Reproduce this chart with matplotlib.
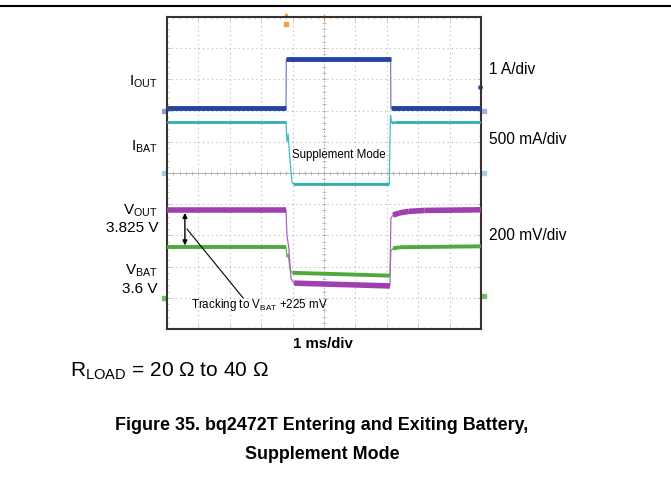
import matplotlib
matplotlib.use("Agg")
import matplotlib.pyplot as plt
from matplotlib.lines import Line2D
import numpy as np

plt.rcParams['font.family'] = ['Liberation Sans', 'DejaVu Sans']
plt.rcParams['mathtext.fontset'] = 'custom'
plt.rcParams['mathtext.rm'] = 'Liberation Sans'
plt.rcParams['mathtext.it'] = 'Liberation Sans:italic'
plt.rcParams['mathtext.bf'] = 'Liberation Sans:bold'

# ---- data (in scope divisions: x 0..10 time, y 0..10 screen) ----
iout_x = [0, 3.79, 3.80, 7.12, 7.13, 10]
iout_y = [7.08, 7.08, 8.65, 8.65, 7.08, 7.08]

ibat_x = [0, 3.79, 3.82, 3.86, 3.90, 3.98, 4.02, 7.08, 7.10, 7.12, 7.16, 7.25, 10]
ibat_y = [6.62, 6.62, 6.00, 6.25, 5.60, 4.70, 4.66, 4.66, 6.00, 6.85, 6.60, 6.62, 6.62]

vout_x = [0, 3.79, 3.82, 3.88, 3.95, 4.05, 7.10, 7.13, 7.20, 7.40, 7.70, 8.20, 10]
vout_y = [3.81, 3.81, 3.00, 2.60, 1.60, 1.47, 1.38, 3.55, 3.65, 3.72, 3.77, 3.80, 3.82]

vbat_x = [0, 3.79, 3.82, 3.86, 3.92, 4.00, 7.10, 7.13, 7.20, 7.40, 10]
vbat_y = [2.63, 2.63, 2.30, 2.40, 1.90, 1.80, 1.71, 2.50, 2.58, 2.62, 2.65]

left_labels = [(r'I$_{\mathrm{OUT}}$', 82), (r'I$_{\mathrm{BAT}}$', 147),
               (r'V$_{\mathrm{OUT}}$', 211), ('3.825 V', 228),
               (r'V$_{\mathrm{BAT}}$', 271), ('3.6 V', 289)]
right_labels = [('1 A/div', 69), ('500 mA/div', 140), ('200 mV/div', 236)]

W, H = 671, 502
fig = plt.figure(figsize=(W / 100, H / 100), dpi=100)
L, T, R, B = 167, 18, 481, 330
ax = fig.add_axes([L / W, 1 - B / H, (R - L) / W, (B - T) / H])
ax.set_xlim(0, 10)
ax.set_ylim(0, 10)

# grid
for k in range(1, 10):
    if k == 5:
        continue
    ax.axvline(k, color='#b8b8b8', lw=0.8, ls=(0, (1, 3)), zorder=1)
    ax.axhline(k, color='#b8b8b8', lw=0.8, ls=(0, (1, 3)), zorder=1)
ax.axhline(5, color='#b0a0a0', lw=0.6, zorder=1)
ax.axvline(5, color='#b0a0a0', lw=0.6, ls=(0, (2, 2)), zorder=1)
minor = np.arange(0.2, 10, 0.2)
ax.plot(minor, np.full_like(minor, 5), ls='none', marker='|', ms=3, color='#b0a0a0', mew=0.5, zorder=1)
ax.plot(np.full_like(minor, 5), minor, ls='none', marker='_', ms=3, color='#b0a0a0', mew=0.5, zorder=1)

ax.set_xticks(np.arange(0, 11, 1))
ax.set_yticks(np.arange(0, 11, 1))
ax.set_xticks(minor, minor=True)
ax.set_yticks(minor, minor=True)
ax.tick_params(which='both', direction='in', top=True, right=True,
               labelbottom=False, labelleft=False, color='#c0b0b0', width=0.5)
ax.tick_params(which='major', length=3)
ax.tick_params(which='minor', length=1.5)
for s in ax.spines.values():
    s.set_color('#3a3030')
    s.set_linewidth(1.5)


def trace(xs, ys, color, thick, thin_color):
    ax.plot(xs, ys, color=thin_color, lw=0.9, zorder=3)
    for i in range(len(xs) - 1):
        dx = xs[i + 1] - xs[i]
        if dx > 0 and abs(ys[i + 1] - ys[i]) / dx < 1.0:
            ax.plot([xs[i], xs[i + 1]], [ys[i], ys[i + 1]], color=color,
                    lw=thick, solid_capstyle='butt', zorder=4)


trace(iout_x, iout_y, '#2444a0', 3.5, '#7080c0')
trace(ibat_x, ibat_y, '#2fb0aa', 2.0, '#40c0c0')
trace(vbat_x, vbat_y, '#4eaa3a', 2.8, '#60b850')
trace(vout_x, vout_y, '#a040b0', 4.0, '#b060c0')

# markers
ax.plot([-0.08], [7.0], marker='s', ms=3, color='#80a0e0', clip_on=False)
ax.plot([-0.08], [5.0], marker='s', ms=3, color='#a0d0e0', clip_on=False)
ax.plot([-0.08], [1.0], marker='s', ms=3, color='#70c060', clip_on=False)
ax.plot([10.08], [7.0], marker='s', ms=3, color='#a0b0e0', clip_on=False)
ax.plot([10.08], [5.0], marker='s', ms=3, color='#a0d0e0', clip_on=False)
ax.plot([10.08], [1.05], marker='s', ms=3, color='#70c060', clip_on=False)
ax.plot([9.98], [7.76], marker='o', ms=2.5, color='#3050c0', clip_on=False)
ax.plot([3.79], [9.78], marker='s', ms=3, color='#f0a040', clip_on=False)
ax.plot([3.79], [10.06], marker='s', ms=2, color='#f0a040', clip_on=False)
ax.plot([5.0], [10.0], marker='|', ms=4, color='#f0a040', clip_on=False)

# annotations inside
ax.text(3.98, 5.6, 'Supplement Mode', fontsize=8.3, ha='left', va='center', zorder=6)
ax.annotate('', xy=(0.57, 3.72), xytext=(0.57, 2.68),
            arrowprops=dict(arrowstyle='<|-|>', color='black', lw=1.0,
                            mutation_scale=7, shrinkA=0, shrinkB=0), zorder=6)
ax.plot([0.64, 2.42], [3.2, 1.0], color='black', lw=0.8, zorder=6)
ax.text(0.76, 0.80, r'Tracking to V$_{\mathrm{BAT}}$ +225 mV', fontsize=8.4,
        ha='left', va='center', zorder=6)

# outside labels
for txt, py in left_labels:
    fig.text(158 / W, 1 - py / H, txt, fontsize=11, ha='right', va='center')
for txt, py in right_labels:
    fig.text(489 / W, 1 - py / H, txt, fontsize=11.2, ha='left', va='center')

fig.text(323 / W, 1 - 344 / H, '1 ms/div', fontsize=10.8, fontweight='bold',
         ha='center', va='center')
fig.text(70 / W, 1 - 371 / H, r'R$_{\mathrm{LOAD}}$ = 20 Ω to 40 Ω', fontsize=15,
         ha='left', va='center')
fig.text(322 / W, 1 - 425 / H, 'Figure 35. bq2472T Entering and Exiting Battery,',
         fontsize=12.9, fontweight='bold', ha='center', va='center')
fig.text(322 / W, 1 - 455 / H, 'Supplement Mode',
         fontsize=12.9, fontweight='bold', ha='center', va='center')

fig.add_artist(Line2D([0, 1], [1 - 7 / H, 1 - 7 / H], color='black', lw=1.5))

fig.savefig('out.png', dpi=100)
